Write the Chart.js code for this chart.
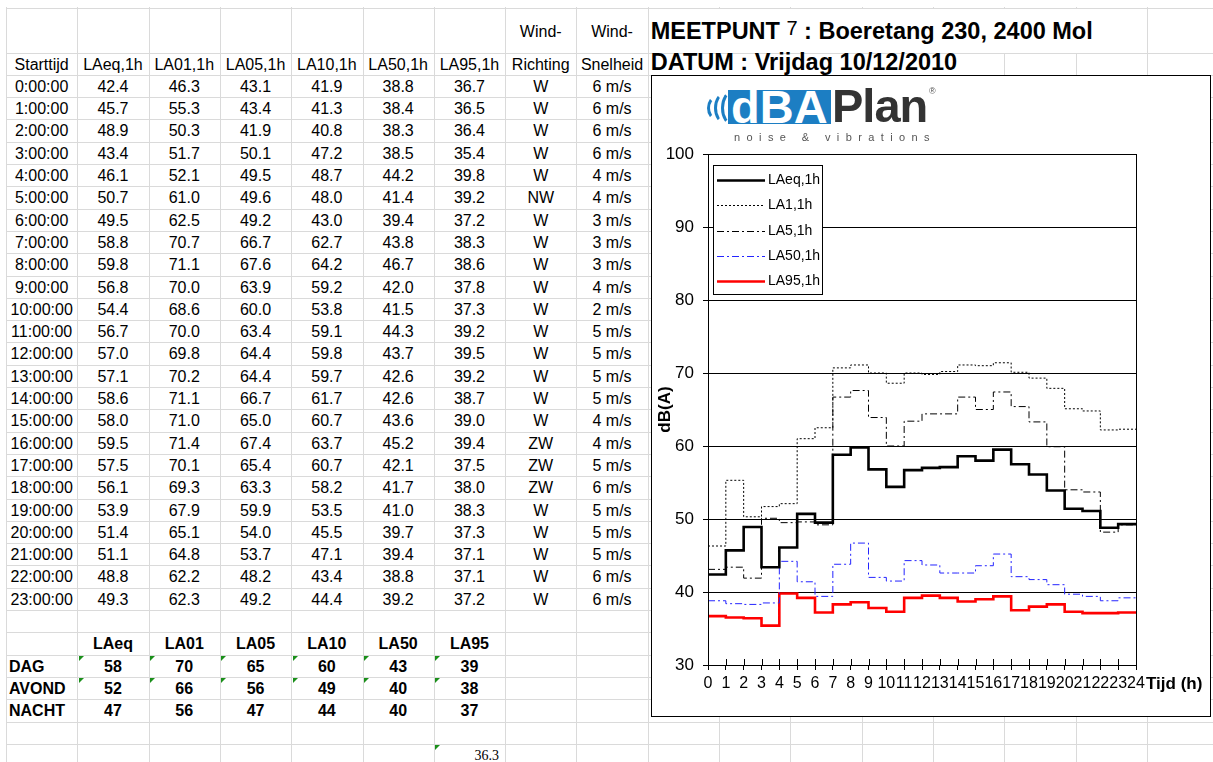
<!DOCTYPE html>
<html>
<head>
<meta charset="utf-8">
<title>Meetpunt 7 - Boeretang 230</title>
<script src="https://cdn.jsdelivr.net/npm/chart.js@4.4.1/dist/chart.umd.min.js"></script>
<style>
  body { margin: 0; background: #fff; font-family: Arial, "Liberation Sans", sans-serif; }
  #sheet { position: absolute; left: 0; top: 0; width: 1213px; height: 762px; overflow: hidden; }
  .gl { position: absolute; background: #dadada; }
  .cel { position: absolute; font-size: 16px; white-space: nowrap; text-align: center; color: #000; }
  .b { font-weight: bold; }
  .tri { position: absolute; width: 0; height: 0; border-top: 5px solid #1a8f1a; border-right: 5px solid transparent; }
  .titel { position: absolute; background: #fff; font-weight: bold; font-size: 23.5px; white-space: nowrap; color: #000; }
  #box { position: absolute; left: 651px; top: 75px; width: 560px; height: 642px; box-sizing: border-box; border: 1.5px solid #000; background: #fff; }
  #grafiek { position: absolute; left: 652px; top: 76px; }
  .arc { position: absolute; box-sizing: border-box; border: 3px solid transparent; border-left-color: #1c7ec3; border-radius: 50%; }
  #dba { position: absolute; left: 728px; top: 90px; width: 103px; height: 34px; background: #1c7ec3; overflow: hidden;
         color: #fff; font-weight: bold; font-size: 47px; line-height: 34px; letter-spacing: 0px; padding-left: 3px; box-sizing: border-box; }
  #plan { position: absolute; left: 832px; top: 88px; color: #333; font-weight: bold; font-size: 47px; line-height: 36px; letter-spacing: -1px; }
  #reg { position: absolute; left: 929px; top: 86px; color: #555; font-size: 9px; }
  #slogan { position: absolute; left: 734px; top: 131px; color: #555; font-size: 11px; letter-spacing: 6.4px; white-space: nowrap; }
</style>
</head>
<body>
<div id="sheet"></div>
<div id="box"></div>
<canvas id="grafiek" width="558" height="640"></canvas>
<div class="arc" style="left:707px;top:96px;width:18px;height:24px;"></div>
<div class="arc" style="left:714px;top:92px;width:22px;height:32px;"></div>
<div class="arc" style="left:721px;top:90px;width:24px;height:36px;"></div>
<div id="dba">dBA</div>
<div id="plan">Plan</div>
<div id="reg">&reg;</div>
<div id="slogan">noise &amp; vibrations</div>
<script>
// meetwaarden per uur
const starttijd = ['0:00:00', '1:00:00', '2:00:00', '3:00:00', '4:00:00', '5:00:00', '6:00:00', '7:00:00',
  '8:00:00', '9:00:00', '10:00:00', '11:00:00', '12:00:00', '13:00:00', '14:00:00', '15:00:00',
  '16:00:00', '17:00:00', '18:00:00', '19:00:00', '20:00:00', '21:00:00', '22:00:00', '23:00:00'];
const LAeq = [42.4, 45.7, 48.9, 43.4, 46.1, 50.7, 49.5, 58.8, 59.8, 56.8, 54.4, 56.7, 57.0, 57.1, 58.6, 58.0, 59.5, 57.5, 56.1, 53.9, 51.4, 51.1, 48.8, 49.3];
const LA01 = [46.3, 55.3, 50.3, 51.7, 52.1, 61.0, 62.5, 70.7, 71.1, 70.0, 68.6, 70.0, 69.8, 70.2, 71.1, 71.0, 71.4, 70.1, 69.3, 67.9, 65.1, 64.8, 62.2, 62.3];
const LA05 = [43.1, 43.4, 41.9, 50.1, 49.5, 49.6, 49.2, 66.7, 67.6, 63.9, 60.0, 63.4, 64.4, 64.4, 66.7, 65.0, 67.4, 65.4, 63.3, 59.9, 54.0, 53.7, 48.2, 49.2];
const LA10 = [41.9, 41.3, 40.8, 47.2, 48.7, 48.0, 43.0, 62.7, 64.2, 59.2, 53.8, 59.1, 59.8, 59.7, 61.7, 60.7, 63.7, 60.7, 58.2, 53.5, 45.5, 47.1, 43.4, 44.4];
const LA50 = [38.8, 38.4, 38.3, 38.5, 44.2, 41.4, 39.4, 43.8, 46.7, 42.0, 41.5, 44.3, 43.7, 42.6, 42.6, 43.6, 45.2, 42.1, 41.7, 41.0, 39.7, 39.4, 38.8, 39.2];
const LA95 = [36.7, 36.5, 36.4, 35.4, 39.8, 39.2, 37.2, 38.3, 38.6, 37.8, 37.3, 39.2, 39.5, 39.2, 38.7, 39.0, 39.4, 37.5, 38.0, 38.3, 37.3, 37.1, 37.1, 37.2];
const windRichting = ['W', 'W', 'W', 'W', 'W', 'NW', 'W', 'W', 'W', 'W', 'W', 'W', 'W', 'W', 'W', 'W', 'ZW', 'ZW', 'ZW', 'W', 'W', 'W', 'W', 'W'];
const windSnelheid = [6, 6, 6, 6, 4, 4, 3, 3, 3, 4, 2, 5, 5, 5, 5, 4, 4, 5, 6, 5, 5, 5, 6, 6];

// samenvatting dag / avond / nacht
const perioden = ['DAG', 'AVOND', 'NACHT'];
const kolommen = ['LAeq', 'LA01', 'LA05', 'LA10', 'LA50', 'LA95'];
const dag = [58, 70, 65, 60, 43, 39];
const avond = [52, 66, 56, 49, 40, 38];
const nacht = [47, 56, 47, 44, 40, 37];
const losseWaarde = 36.3;

// x-as labels (uren)
const uren = ['0', '1', '2', '3', '4', '5', '6', '7', '8', '9', '10', '11', '12',
  '13', '14', '15', '16', '17', '18', '19', '20', '21', '22', '23', '24'];

// ---- spreadsheet ----
const sheet = document.getElementById('sheet');
const colW = 71.3;
function colX(i) { return 6 + colW * i; }
function rowY(r) { return r === 0 ? 7.5 : 52.5 + 22.3 * (r - 1); }
function rowH(r) { return r === 0 ? 45 : 22.3; }

function lijn(x, y, w, h) {
  const d = document.createElement('div');
  d.className = 'gl';
  d.style.left = x + 'px'; d.style.top = y + 'px';
  d.style.width = w + 'px'; d.style.height = h + 'px';
  sheet.appendChild(d);
}
for (let i = 0; i <= 17; i++) lijn(Math.round(colX(i)), 7, 1, 760);
for (let r = 0; r <= 33; r++) lijn(6, Math.round(rowY(r)), 1210, 1);

function cel(c, r, tekst, cls, stijl) {
  const d = document.createElement('div');
  d.className = 'cel' + (cls ? ' ' + cls : '');
  d.style.left = colX(c) + 'px';
  d.style.width = colW + 'px';
  d.style.top = (rowY(r) + 1) + 'px';
  d.style.height = rowH(r) + 'px';
  d.style.lineHeight = rowH(r) + 'px';
  if (stijl) Object.assign(d.style, stijl);
  d.textContent = tekst;
  sheet.appendChild(d);
  return d;
}
function driehoek(c, r) {
  const t = document.createElement('div');
  t.className = 'tri';
  t.style.left = (colX(c) + 1.5) + 'px';
  t.style.top = (rowY(r) + 1.5) + 'px';
  sheet.appendChild(t);
}

cel(7, 0, 'Wind-'); cel(8, 0, 'Wind-');
const koppen = ['Starttijd', 'LAeq,1h', 'LA01,1h', 'LA05,1h', 'LA10,1h', 'LA50,1h', 'LA95,1h', 'Richting', 'Snelheid'];
koppen.forEach((k, i) => cel(i, 1, k));

const reeksen = [LAeq, LA01, LA05, LA10, LA50, LA95];
starttijd.forEach((t, i) => {
  const r = i + 2;
  cel(0, r, t);
  reeksen.forEach((s, j) => cel(j + 1, r, s[i].toFixed(1)));
  cel(7, r, windRichting[i]);
  cel(8, r, windSnelheid[i] + ' m/s');
});

kolommen.forEach((k, j) => cel(j + 1, 27, k, 'b'));
[dag, avond, nacht].forEach((rij, p) => {
  const r = 28 + p;
  cel(0, r, perioden[p], 'b', { textAlign: 'left', paddingLeft: '3px', boxSizing: 'border-box' });
  rij.forEach((v, j) => {
    cel(j + 1, r, String(v), 'b');
    if (p < 2) driehoek(j + 1, r);
  });
});
cel(6, 32, losseWaarde.toFixed(1), '', { textAlign: 'right', paddingRight: '6px', boxSizing: 'border-box',
  fontFamily: '"Liberation Serif", "Times New Roman", serif', fontSize: '14px' });
driehoek(6, 32);

// titels boven de grafiek
function titel(r, eindKol, html, top) {
  const d = document.createElement('div');
  d.className = 'titel';
  d.style.left = (colX(9) + 1) + 'px';
  d.style.top = (rowY(r) + 1) + 'px';
  d.style.width = (colX(eindKol) - colX(9) - 1) + 'px';
  d.style.height = (rowH(r) - 1) + 'px';
  d.innerHTML = '<div style="position:absolute;left:2px;top:' + top + 'px;line-height:24px">' + html + '</div>';
  sheet.appendChild(d);
}
titel(0, 16, 'MEETPUNT <span style="font-weight:normal;font-size:20px;position:relative;top:-4px">7</span> : Boeretang 230, 2400 Mol', 10.5);
titel(1, 14, 'DATUM : Vrijdag 10/12/2010', -3.5);

// ---- grafiek ----
Chart.defaults.font.family = 'Arial, "Liberation Sans", sans-serif';
Chart.defaults.color = '#000';

// laatste waarde herhalen zodat de trap tot 24 h doorloopt
function trap(v) { return v.concat([v[v.length - 1]]); }

const kader = {
  id: 'kader',
  afterDraw(chart) {
    const { ctx, chartArea } = chart;
    const xs = chart.scales.x;
    ctx.save();
    ctx.strokeStyle = '#000';
    ctx.lineWidth = 1;
    ctx.strokeRect(Math.round(chartArea.left) + 0.5, Math.round(chartArea.top) + 0.5,
      Math.round(chartArea.right - chartArea.left), Math.round(chartArea.bottom - chartArea.top));
    // tick streepjes ook boven de as
    ctx.beginPath();
    xs.ticks.forEach((t, i) => {
      const px = Math.round(xs.getPixelForTick(i)) + 0.5;
      ctx.moveTo(px, chartArea.bottom);
      ctx.lineTo(px, chartArea.bottom - 6);
    });
    ctx.stroke();

    // legenda
    const x = Math.round(chartArea.left) + 5, y = Math.round(chartArea.top) + 11, w = 109, h = 129;
    ctx.fillStyle = '#fff';
    ctx.fillRect(x, y, w, h);
    ctx.strokeRect(x + 0.5, y + 0.5, w, h);
    chart.data.datasets.forEach((ds, i) => {
      const ly = Math.round(y + 15 + i * 25.3) + 0.5;
      ctx.beginPath();
      ctx.setLineDash(ds.borderDash || []);
      ctx.lineWidth = ds.borderWidth;
      ctx.strokeStyle = ds.borderColor;
      ctx.moveTo(x + 4, ly);
      ctx.lineTo(x + 52, ly);
      ctx.stroke();
      ctx.setLineDash([]);
      ctx.fillStyle = '#000';
      ctx.font = '14px Arial, "Liberation Sans", sans-serif';
      ctx.textBaseline = 'middle';
      ctx.fillText(ds.label, x + 55, ly);
    });

    // as-titel rechts van de uren
    ctx.font = 'bold 17px Arial, "Liberation Sans", sans-serif';
    ctx.textBaseline = 'middle';
    ctx.fillText('Tijd (h)', chartArea.right + 10, chartArea.bottom + 19);
    ctx.restore();
  }
};

const lijnBasis = { stepped: true, pointRadius: 0, fill: false };
const data = {
  labels: uren,
  datasets: [
    Object.assign({ label: 'LAeq,1h', data: trap(LAeq), borderColor: '#000', borderWidth: 2.6 }, lijnBasis),
    Object.assign({ label: 'LA1,1h', data: trap(LA01), borderColor: '#000', borderWidth: 1, borderDash: [2, 2] }, lijnBasis),
    Object.assign({ label: 'LA5,1h', data: trap(LA05), borderColor: '#000', borderWidth: 1, borderDash: [7, 3, 2, 3] }, lijnBasis),
    Object.assign({ label: 'LA50,1h', data: trap(LA50), borderColor: '#2424ff', borderWidth: 1, borderDash: [7, 3, 2, 3] }, lijnBasis),
    Object.assign({ label: 'LA95,1h', data: trap(LA95), borderColor: '#ff0000', borderWidth: 2.6 }, lijnBasis)
  ]
};

const config = {
  type: 'line',
  data: data,
  options: {
    responsive: false,
    animation: false,
    layout: { padding: { top: 78, right: 74, left: 0, bottom: 0 } },
    plugins: { legend: { display: false }, tooltip: { enabled: false } },
    scales: {
      x: {
        ticks: { autoSkip: false, maxRotation: 0, minRotation: 0, font: { size: 16 }, color: '#000', padding: 4 },
        grid: { drawOnChartArea: false, color: '#000', tickLength: 5 },
        border: { color: '#000' },
        afterFit: function (s) { s.height = 51; }
      },
      y: {
        min: 30,
        max: 100,
        ticks: { stepSize: 10, font: { size: 17 }, color: '#000', padding: 9 },
        grid: { color: '#000', tickLength: 5 },
        border: { color: '#000' },
        title: { display: true, text: 'dB(A)', font: { size: 17, weight: 'bold' }, color: '#000', padding: { top: 3, bottom: 0 } },
        afterFit: function (s) { s.width = 56; }
      }
    }
  },
  plugins: [kader]
};

const ctx = document.getElementById('grafiek').getContext('2d');
const grafiek = new Chart(ctx, config);
</script>
</body>
</html>
